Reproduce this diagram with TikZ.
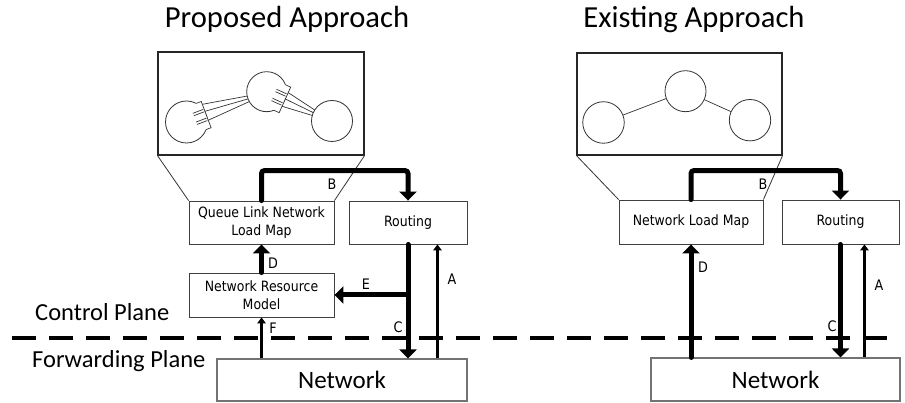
\documentclass[tikz,border=0pt]{standalone}
\usepackage{fontspec}
\setmainfont{DejaVu Sans}
\newfontfamily\smallfont[FakeStretch=0.88]{DejaVu Sans}
\newfontfamily\titlefont{Carlito}
\usetikzlibrary{arrows.meta,calc}
\begin{document}
\begin{tikzpicture}[x=1pt,y=-1pt,
  box/.style={draw=black!75, line width=0.9pt, inner sep=0pt, align=center,
    font=\smallfont\fontsize{14.2}{18}\selectfont},
  netbox/.style={draw=black!55, line width=1.1pt, inner sep=0pt,
    font=\titlefont\fontsize{25}{30}\selectfont},
  topbox/.style={draw=black!85, line width=1.1pt, inner sep=0pt},
  node circ/.style={circle, draw=black!80, line width=0.8pt, inner sep=0pt, minimum size=41pt},
  thickarrow/.style={line width=5pt, line cap=round, -{Triangle[width=17pt,length=9pt]}},
  thinarrow/.style={line width=2.3pt, -{Triangle[width=8.5pt,length=6pt]}},
  lbl/.style={font=\smallfont\fontsize{14.5}{16}\selectfont, inner sep=0pt},
  big/.style={font=\titlefont\fontsize{24.5}{28}\selectfont, inner sep=0pt},
  ttl/.style={font=\titlefont\fontsize{30.6}{36}\selectfont, inner sep=0pt},
  funnel/.style={line width=0.8pt, draw=black!80},
  plugline/.style={line width=0.7pt, draw=black!80}
]
\useasboundingbox (0,0) rectangle (905,403);

% titles
\node[ttl, anchor=base] (t1) at (287,28) {Proposed Approach};
\node[ttl, anchor=base] (t2) at (694,28) {Existing Approach};
\node[big, anchor=base west] (cp) at (35,320) {Control Plane};
\node[big, anchor=base west] (fp) at (32,367) {Forwarding Plane};

% dashed separator
\coordinate (dl1) at (12,338);
\coordinate (dl2) at (895,338);
\draw[line width=3.5pt, dash pattern=on 24pt off 13pt] (dl1) -- (dl2);

% ---------- left (proposed) ----------
\node[topbox, minimum width=206pt, minimum height=103pt] (top1) at (261,103.5) {};
\node[box, minimum width=145pt, minimum height=43pt] (q) at (261.5,222.5) {Queue Link Network\\Load Map};
\node[box, minimum width=118pt, minimum height=43pt] (rt1) at (408,222.5) {Routing};
\node[box, minimum width=145pt, minimum height=44pt] (nrm) at (261.5,295) {Network Resource\\Model};
\node[netbox, minimum width=250pt, minimum height=42pt] (net1) at (342,380) {Network};

\draw[funnel] (top1.south west) -- (q.north west);
\draw[funnel] (top1.south east) -- (q.north east);

% circles in proposed view
\node[node circ, minimum size=42pt] (c1) at (186.5,122) {};
\node[node circ, minimum size=40pt] (c2) at (266.7,91.7) {};
\node[node circ, minimum size=41pt] (c3) at (332,121) {};

% plug on c1 towards c2
\begin{scope}[shift={(c1.center)}, rotate=20.6]
  \fill[white] (15,-14) rectangle (21,14);
  \draw[plugline] (15.65,-14) -- (21,-14) -- (21,14) -- (15.65,14);
  \draw[plugline] (9,-5.9) -- (20,-5.9) (9,-3.3) -- (20,-3.3)
                  (9,3.4) -- (20,3.4) (9,6.0) -- (20,6.0);
  \draw[plugline] (21,-11) -- (65.7,-3) (21,-3.5) -- (65.5,0) (21,6) -- (65.7,3);
\end{scope}
% plug on c2 towards c3
\begin{scope}[shift={(c2.center)}, rotate=-24.2]
  \fill[white] (14,-14) rectangle (20,14);
  \draw[plugline] (14.28,-14) -- (20,-14) -- (20,14) -- (14.28,14);
  \draw[plugline] (8,-6.2) -- (19,-6.2) (8,-3.6) -- (19,-3.6)
                  (8,3.6) -- (19,3.6) (8,6.2) -- (19,6.2);
  \draw[plugline] (20,-8) -- (51.3,-3) (20,-1) -- (51.1,0) (20,7) -- (51.3,3);
\end{scope}

% arrows proposed
\draw[thickarrow, rounded corners=3pt] (q.north) -- ++(0,-30) -| (rt1.north);
\draw[thickarrow] (nrm.north) -- (q.south);
\draw[thickarrow] (rt1.south) -- (rt1.south |- net1.north);
\draw[thickarrow] (rt1.south |- nrm.east) -- (nrm.east);
\coordinate (a1) at ($(rt1.south east)+(-30,0)$);
\draw[thinarrow] (a1 |- net1.north) -- (a1);
\draw[thinarrow] (nrm.south |- net1.north) -- (nrm.south);

\node[lbl] (lB1) at (332,184) {B};
\node[lbl] (lD1) at (273,263) {D};
\node[lbl] (lE1) at (366,284) {E};
\node[lbl] (lC1) at (398,327) {C};
\node[lbl] (lA1) at (452,279) {A};
\node[lbl] (lF1) at (273,328) {F};

% ---------- right (existing) ----------
\node[topbox, minimum width=205pt, minimum height=102pt] (top2) at (679.5,104) {};
\node[box, minimum width=144pt, minimum height=44pt] (nlm) at (691,222) {Network Load Map};
\node[box, minimum width=117pt, minimum height=44pt] (rt2) at (840.5,222) {Routing};
\node[netbox, minimum width=249pt, minimum height=43pt] (net2) at (775.5,379.5) {Network};

\draw[funnel] (top2.south west) -- (nlm.north west);
\draw[funnel] (top2.south east) -- (nlm.north east);

\node[node circ, minimum size=41.5pt] (c4) at (603.5,122.5) {};
\node[node circ, minimum size=41pt] (c5) at (685.5,91.2) {};
\node[node circ, minimum size=41.4pt] (c6) at (750,120.2) {};
\draw[plugline] (c4) -- (c5);
\draw[plugline] (c5) -- (c6);

\draw[thickarrow, rounded corners=3pt] (nlm.north) -- ++(0,-29) -| (rt2.north);
\draw[thickarrow] (nlm.south |- net2.north) -- (nlm.south);
\draw[thickarrow] (rt2.south) -- (rt2.south |- net2.north);
\coordinate (a2) at ($(rt2.south east)+(-35,0)$);
\draw[thinarrow] (a2 |- net2.north) -- (a2);

\node[lbl] (lB2) at (763,184) {B};
\node[lbl] (lD2) at (703,267) {D};
\node[lbl] (lC2) at (832,326) {C};
\node[lbl] (lA2) at (879,285) {A};
\end{tikzpicture}
\end{document}
